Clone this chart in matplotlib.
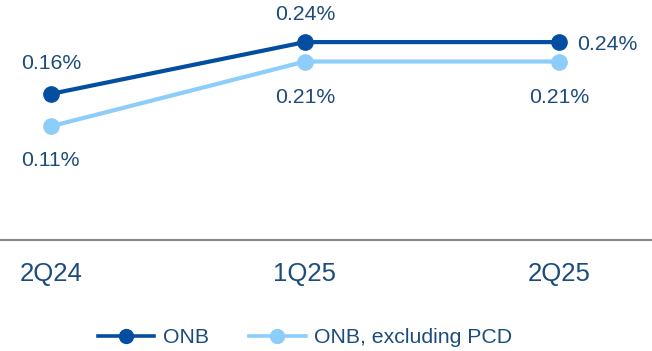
import matplotlib
matplotlib.use("Agg")
import matplotlib.pyplot as plt

plt.rcParams['font.family'] = ['Liberation Sans', 'DejaVu Sans']

quarters = ["2Q24", "1Q25", "2Q25"]
onb = [0.16, 0.24, 0.24]
onb_ex_pcd = [0.11, 0.21, 0.21]

dark = "#034EA0"
light = "#8DCDF9"
text_c = "#1C4C7E"

fig = plt.figure(figsize=(6.52, 3.51), dpi=100)
ax = fig.add_axes([0.0, 111 / 351, 1.0, 240 / 351])

x = list(range(len(quarters)))
ax.plot(x, onb, color=dark, lw=3.0, marker="o", ms=11, label="ONB", zorder=3)
ax.plot(x, onb_ex_pcd, color=light, lw=3.0, marker="o", ms=11,
        label="ONB, excluding PCD", zorder=2)

ax.set_xlim(-0.2, 2.366)
ax.set_ylim(-0.0655, 0.305)

# value labels: (series, index, offset in px, alignment)
placements = [
    (onb, 0, (0, 30), "center"),
    (onb_ex_pcd, 0, (0, -34), "center"),
    (onb, 1, (0, 28), "center"),
    (onb_ex_pcd, 1, (0, -36), "center"),
    (onb, 2, (18, -2), "left"),
    (onb_ex_pcd, 2, (0, -36), "center"),
]
for series, i, off, ha in placements:
    ax.annotate(f"{series[i]:.2f}%", (x[i], series[i]), xytext=off,
                textcoords="offset pixels", ha=ha, va="center",
                fontsize=15.3, color=text_c)

for s in ["top", "left", "right"]:
    ax.spines[s].set_visible(False)
ax.spines["bottom"].set_color("#878787")
ax.spines["bottom"].set_linewidth(1.5)
ax.set_yticks([])
ax.set_xticks(x)
ax.set_xticklabels(quarters, fontsize=18.5, color=text_c)
ax.tick_params(axis="x", length=0, pad=16)

leg = fig.legend(loc="center", bbox_to_anchor=(0.468, 0.038), ncol=2,
                 frameon=False, fontsize=15.3, labelcolor=text_c,
                 handlelength=2.65, columnspacing=1.9, handletextpad=0.4)
for line in leg.get_lines():
    line.set_linewidth(2.6)
    line.set_markersize(10)

fig.savefig("out.png", dpi=100)
